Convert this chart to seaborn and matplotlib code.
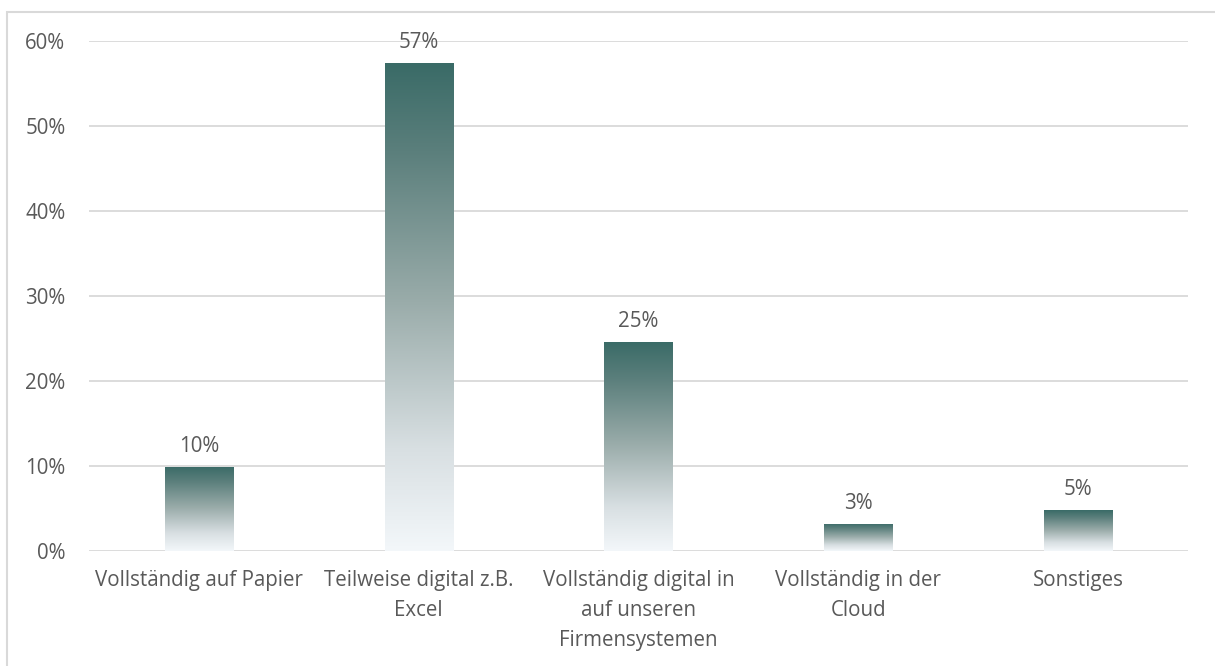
import numpy as np
import pandas as pd
import matplotlib
matplotlib.use('Agg')
import matplotlib.pyplot as plt
import matplotlib.patches as mpatches
from matplotlib.colors import LinearSegmentedColormap
import seaborn as sns

# Data
categories = ['Vollständig auf Papier', 'Teilweise digital z.B.\nExcel',
              'Vollständig digital in\nauf unseren\nFirmensystemen',
              'Vollständig in der\nCloud', 'Sonstiges']
values = [9.9, 57.4, 24.6, 3.2, 4.8]
labels = ['10%', '57%', '25%', '3%', '5%']
yticks = [0, 10, 20, 30, 40, 50, 60]

sns.set_theme(style='white')
plt.rcParams['font.family'] = ['Open Sans', 'DejaVu Sans']
text_color = '#595959'
grid_color = '#d9d9d9'
fs = 14.8

fig = plt.figure(figsize=(12.15, 6.66), dpi=100)
ax = fig.add_axes([89 / 1215, 1 - 551 / 666, (1188 - 89) / 1215, (551 - 41) / 666])

df = pd.DataFrame({'cat': categories, 'val': values})
sns.barplot(data=df, x='cat', y='val', ax=ax, width=0.31, color='#3a6a66', zorder=2)

ax.set_ylim(0, 60)
ax.set_xlim(-0.5, len(categories) - 0.5)
ax.set_yticks(yticks)
ax.set_yticklabels([f'{t}%' for t in yticks])
ax.set_xlabel('')
ax.set_ylabel('')
ax.grid(axis='y', color=grid_color, linewidth=1.3, zorder=0)
ax.set_axisbelow(True)
for s in ax.spines.values():
    s.set_visible(False)
ax.tick_params(axis='both', length=0, labelsize=fs, colors=text_color)
ax.tick_params(axis='y', pad=17)
ax.tick_params(axis='x', pad=14)
for t in ax.get_xticklabels():
    t.set_linespacing(1.55)

# gradient fill for each bar (light at the bottom, dark teal at the top)
cmap = LinearSegmentedColormap.from_list(
    'g', [(0, '#f3f7fa'), (0.21, '#d8dfe2'), (0.51, '#9aacaa'), (0.82, '#5b7f7c'), (1, '#3a6b67')])
grad = np.linspace(0, 1, 256).reshape(-1, 1)
for p, lab in zip(ax.patches, labels):
    x0, y0 = p.get_x(), p.get_y()
    w, h = p.get_width(), p.get_height()
    im = ax.imshow(grad, cmap=cmap, origin='lower', aspect='auto',
                   extent=[x0, x0 + w, y0, y0 + h], zorder=3)
    im.set_clip_path(p)
    p.set_facecolor('none')
    p.set_edgecolor('none')
    ax.annotate(lab, (x0 + w / 2, y0 + h), xytext=(0, 7), textcoords='offset points',
                ha='center', va='bottom', fontsize=fs, color=text_color)
ax.set_xlim(-0.5, len(categories) - 0.5)
ax.set_ylim(0, 60)

# outer frame of the chart area
frame = mpatches.Rectangle((7 / 1215, -0.1), 1.2, 1 - 12 / 666 + 0.1, transform=fig.transFigure,
                           fill=False, edgecolor=grid_color, linewidth=1.5, clip_on=False)
fig.patches.append(frame)

fig.savefig('out.png', dpi=100)
